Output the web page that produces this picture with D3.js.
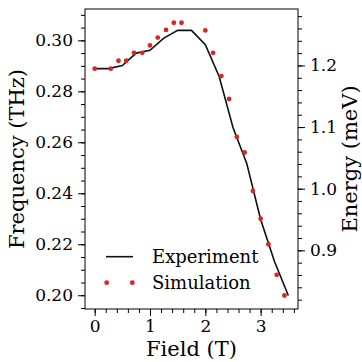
<!DOCTYPE html>
<html>
<head>
<meta charset="utf-8">
<script src="https://cdn.jsdelivr.net/npm/d3@7"></script>
<style>
  body { margin: 0; background: #fff; }
  svg, svg text { font-family: "DejaVu Serif", serif; }
</style>
</head>
<body>
<svg id="chart"></svg>
<script>
// experiment, measured every 0.25 T
const expField = [0, 0.25, 0.5, 0.75, 1.0, 1.25, 1.5, 1.75, 2.0, 2.25, 2.5, 2.75, 3.0, 3.25, 3.5];
const expFreq = [0.2889, 0.2889, 0.2901, 0.2950, 0.2961, 0.3009, 0.3039, 0.3039, 0.2983, 0.2858, 0.2658, 0.2516, 0.2297, 0.2132, 0.1999];

// simulation points
const simField = [0, 0.29, 0.43, 0.57, 0.71, 0.86, 1.0, 1.14, 1.29, 1.43, 1.57, 2.0, 2.14, 2.29, 2.43, 2.57, 2.71, 2.86, 3.0, 3.14, 3.29, 3.43];
const simFreq = [0.2889, 0.2889, 0.2920, 0.2920, 0.2951, 0.2951, 0.2980, 0.3011, 0.3041, 0.3069, 0.3069, 0.3039, 0.2951, 0.2860, 0.2770, 0.2621, 0.2560, 0.2409, 0.2300, 0.2200, 0.2080, 0.1999];

const xTicks = [0, 1, 2, 3];
const yTicks = [0.20, 0.22, 0.24, 0.26, 0.28, 0.30];
const eTicks = [0.9, 1.0, 1.1, 1.2];
const THZ_TO_MEV = 4.1357;

const W = 362, H = 362;
const margin = { top: 9, right: 64, bottom: 53, left: 85 };
const iw = W - margin.left - margin.right;
const ih = H - margin.top - margin.bottom;

const svg = d3.select('#chart').attr('width', W).attr('height', H);
const g = svg.append('g').attr('transform', `translate(${margin.left},${margin.top})`);

const x = d3.scaleLinear().domain([-0.175, 3.675]).range([0, iw]);
const y = d3.scaleLinear().domain([0.1946, 0.3123]).range([ih, 0]);
const yE = d3.scaleLinear().domain(y.domain().map(v => v * THZ_TO_MEV)).range([ih, 0]);

function minor(scale, step) {
  const [a, b] = scale.domain();
  const out = [];
  for (let v = Math.ceil(a / step - 1e-6) * step; v <= b + 1e-9; v += step) out.push(+v.toFixed(4));
  return out;
}

function styleAxis(sel, size) {
  sel.attr('font-family', null);
  sel.select('.domain').remove();
  sel.selectAll('line').attr('stroke', '#000').attr('stroke-width', 1);
  sel.selectAll('text').attr('fill', '#000').style('font-size', size);
}

// minor ticks
g.append('g').attr('transform', `translate(0,${ih})`)
  .call(d3.axisBottom(x).tickValues(minor(x, 0.2)).tickSize(4).tickFormat(''))
  .call(s => styleAxis(s, '0px'));
g.append('g')
  .call(d3.axisLeft(y).tickValues(minor(y, 0.005)).tickSize(4).tickFormat(''))
  .call(s => styleAxis(s, '0px'));
g.append('g').attr('transform', `translate(${iw},0)`)
  .call(d3.axisRight(yE).tickValues(minor(yE, 0.02)).tickSize(4).tickFormat(''))
  .call(s => styleAxis(s, '0px'));

// major ticks
g.append('g').attr('transform', `translate(0,${ih})`)
  .call(d3.axisBottom(x).tickValues(xTicks).tickSize(7).tickPadding(4).tickFormat(d3.format('d')))
  .call(s => styleAxis(s, '17px'));
g.append('g')
  .call(d3.axisLeft(y).tickValues(yTicks).tickSize(7).tickPadding(5).tickFormat(d3.format('.2f')))
  .call(s => styleAxis(s, '17px'));
g.append('g').attr('transform', `translate(${iw},0)`)
  .call(d3.axisRight(yE).tickValues(eTicks).tickSize(7).tickPadding(5).tickFormat(d3.format('.1f')))
  .call(s => styleAxis(s, '17px'));

// frame
g.append('rect').attr('width', iw).attr('height', ih)
  .attr('fill', 'none').attr('stroke', '#000').attr('stroke-width', 1);

// experiment line
const line = d3.line().x(d => x(d[0])).y(d => y(d[1]));
g.append('path')
  .datum(d3.zip(expField, expFreq))
  .attr('d', line)
  .attr('fill', 'none')
  .attr('stroke', '#111')
  .attr('stroke-width', 1.6);

// simulation dots
g.selectAll('circle.sim')
  .data(d3.zip(simField, simFreq))
  .join('circle')
  .attr('class', 'sim')
  .attr('cx', d => x(d[0]))
  .attr('cy', d => y(d[1]))
  .attr('r', 2.4)
  .attr('fill', '#d62728');

// legend
const legend = g.append('g').attr('transform', `translate(${106 - margin.left},${256.7 - margin.top})`);
legend.append('line').attr('x1', 0).attr('x2', 27).attr('stroke', '#111').attr('stroke-width', 1.6);
legend.append('text').attr('x', 46).attr('dy', '0.35em').style('font-size', '18px').text('Experiment');
legend.selectAll('circle').data([0.7, 26.3]).join('circle')
  .attr('cx', d => d).attr('cy', 26).attr('r', 2.4).attr('fill', '#d62728');
legend.append('text').attr('x', 46).attr('y', 26).attr('dy', '0.35em').style('font-size', '18px').text('Simulation');

// axis labels
svg.append('text')
  .attr('x', margin.left + iw / 2).attr('y', 356)
  .attr('text-anchor', 'middle').style('font-size', '21px')
  .text('Field (T)');
svg.append('text')
  .attr('transform', `translate(24,${margin.top + ih / 2}) rotate(-90)`)
  .attr('text-anchor', 'middle').style('font-size', '21px')
  .text('Frequency (THz)');
svg.append('text')
  .attr('transform', `translate(357,${margin.top + ih / 2}) rotate(-90)`)
  .attr('text-anchor', 'middle').style('font-size', '21px')
  .text('Energy (meV)');
</script>
</body>
</html>
